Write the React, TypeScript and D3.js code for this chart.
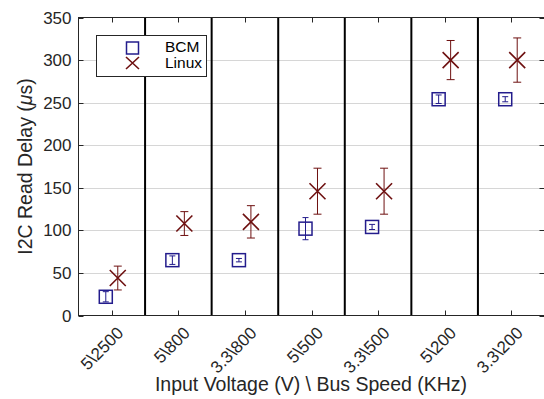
import { useEffect, useRef } from 'react';
import * as d3 from 'd3';

const categories = ['5\\2500', '5\\800', '3.3\\800', '5\\500', '3.3\\500', '5\\200', '3.3\\200'];
const bcmMean = [22, 65, 65, 102, 104, 254, 254];
const bcmErr = [6, 5, 2, 13, 3, 5, 3];
const linuxMean = [44, 108, 110, 146, 146, 300, 300];
const linuxErr = [14, 14, 19, 27, 27, 23, 26];
const yTicks = [0, 50, 100, 150, 200, 250, 300, 350];

const BCM = '#231c8c';
const LINUX = '#6e1010';
const FONT = 'Liberation Sans, Arial, sans-serif';

export default function App() {
  const ref = useRef<SVGSVGElement>(null);

  useEffect(() => {
    if (!ref.current) return;
    const svg = d3.select(ref.current);
    svg.selectAll('*').remove();

    const left = 78.5, right = 544.5, top = 17.5, bottom = 315.5;
    const x = d3.scaleLinear().domain([0.5, categories.length + 0.5]).range([left, right]);
    const y = d3.scaleLinear().domain([0, 350]).range([bottom, top]);
    const idx = d3.range(categories.length);

    // grid
    svg.append('g').selectAll('line').data(yTicks.slice(1, -1)).join('line')
      .attr('x1', left).attr('x2', right)
      .attr('y1', (d) => Math.round(y(d)) + 0.5).attr('y2', (d) => Math.round(y(d)) + 0.5)
      .attr('stroke', '#d6d6d6').attr('stroke-width', 1);

    // separators
    svg.append('g').selectAll('line').data(idx.slice(1)).join('line')
      .attr('x1', (i) => x(i + 0.5)).attr('x2', (i) => x(i + 0.5))
      .attr('y1', top).attr('y2', bottom)
      .attr('stroke', '#000').attr('stroke-width', 2);

    // box
    svg.append('rect').attr('x', left).attr('y', top).attr('width', right - left).attr('height', bottom - top)
      .attr('fill', 'none').attr('stroke', '#262626').attr('stroke-width', 1);

    // ticks
    const tk = svg.append('g').attr('stroke', '#262626').attr('stroke-width', 1);
    yTicks.forEach((t) => {
      const yy = Math.round(y(t)) + 0.5;
      tk.append('line').attr('x1', left).attr('x2', left + 5).attr('y1', yy).attr('y2', yy);
      tk.append('line').attr('x1', right - 5).attr('x2', right).attr('y1', yy).attr('y2', yy);
    });
    idx.forEach((i) => {
      const xx = Math.round(x(i + 1)) + 0.5;
      tk.append('line').attr('x1', xx).attr('x2', xx).attr('y1', bottom).attr('y2', bottom - 5);
      tk.append('line').attr('x1', xx).attr('x2', xx).attr('y1', top).attr('y2', top + 5);
    });

    // y tick labels
    svg.append('g').selectAll('text').data(yTicks).join('text')
      .attr('x', left - 7).attr('y', (d) => y(d)).attr('dy', '0.36em')
      .attr('text-anchor', 'end').attr('font-family', FONT).attr('font-size', 17).attr('fill', '#262626')
      .text((d) => d);

    // x tick labels
    svg.append('g').selectAll('text').data(idx).join('text')
      .attr('transform', (i) => `translate(${x(i + 1) + 4},${bottom + 10}) rotate(-45)`)
      .attr('text-anchor', 'end').attr('dy', '0.72em')
      .attr('font-family', FONT).attr('font-size', 17).attr('fill', '#262626')
      .text((i) => categories[i]);

    // axis titles
    svg.append('text').attr('x', 311).attr('y', 391).attr('text-anchor', 'middle')
      .attr('font-family', FONT).attr('font-size', 19.5).attr('fill', '#262626')
      .text('Input Voltage (V) \\ Bus Speed (KHz)');
    const yl = svg.append('text').attr('transform', `translate(32,${(top + bottom) / 2}) rotate(-90)`)
      .attr('text-anchor', 'middle').attr('font-family', FONT).attr('font-size', 19.5).attr('fill', '#262626');
    yl.append('tspan').text('I2C Read Delay (');
    yl.append('tspan').attr('font-style', 'italic').text('μ');
    yl.append('tspan').text('s)');

    const off = 0.09;
    // error bars
    const errBar = (g: any, cx: number, m: number, e: number, cap: number, color: string) => {
      g.append('line').attr('x1', cx).attr('x2', cx).attr('y1', y(m - e)).attr('y2', y(m + e)).attr('stroke', color);
      [m - e, m + e].forEach((v) => g.append('line').attr('x1', cx - cap).attr('x2', cx + cap)
        .attr('y1', y(v)).attr('y2', y(v)).attr('stroke', color));
    };

    const bg = svg.append('g');
    idx.forEach((i) => {
      const cx = x(i + 1 - off);
      errBar(bg, cx, bcmMean[i], bcmErr[i], 3, BCM);
      bg.append('rect').attr('x', cx - 6.5).attr('y', y(bcmMean[i]) - 6.5).attr('width', 13).attr('height', 13)
        .attr('fill', 'none').attr('stroke', BCM).attr('stroke-width', 1.5);
    });
    const lg = svg.append('g');
    idx.forEach((i) => {
      const cx = x(i + 1 + off);
      errBar(lg, cx, linuxMean[i], linuxErr[i], 4, LINUX);
      const cy = y(linuxMean[i]);
      lg.append('path').attr('d', `M${cx - 8},${cy - 8}L${cx + 8},${cy + 8}M${cx - 8},${cy + 8}L${cx + 8},${cy - 8}`)
        .attr('stroke', LINUX).attr('stroke-width', 1.6).attr('fill', 'none');
    });

    // legend
    const leg = svg.append('g');
    leg.append('rect').attr('x', 96.5).attr('y', 35.5).attr('width', 110).attr('height', 41)
      .attr('fill', '#fff').attr('stroke', '#262626').attr('stroke-width', 1);
    leg.append('rect').attr('x', 126.5).attr('y', 42).attr('width', 12).attr('height', 12)
      .attr('fill', 'none').attr('stroke', BCM).attr('stroke-width', 1.5);
    leg.append('path').attr('d', 'M126,57L139,69M126,69L139,57').attr('stroke', LINUX).attr('stroke-width', 1.6);
    leg.append('text').attr('x', 165).attr('y', 46).attr('dy', '0.36em').attr('font-family', FONT).attr('font-size', 15.5)
      .attr('fill', '#000').text('BCM');
    leg.append('text').attr('x', 165).attr('y', 62).attr('dy', '0.36em').attr('font-family', FONT).attr('font-size', 15.5)
      .attr('fill', '#000').text('Linux');
  }, []);

  return (
    <svg ref={ref} width={544} height={399} style={{ position: 'absolute', left: 0, top: 0, background: '#fff' }} />
  );
}
